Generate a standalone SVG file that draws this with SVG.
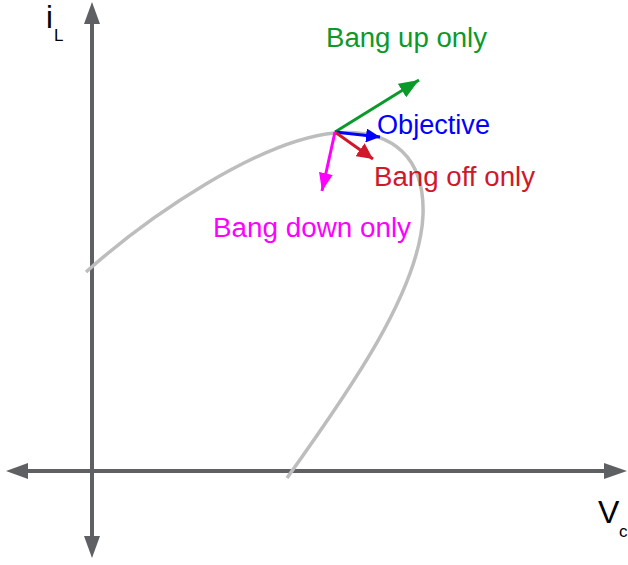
<svg xmlns="http://www.w3.org/2000/svg" width="628" height="565" viewBox="0 0 628 565">
<style>
.axis{stroke:#5f6064;stroke-width:4;fill:none}
.head{fill:#5f6064}
.curve{stroke:#bdbdbd;stroke-width:3.5;fill:none}
.vec{stroke-width:3;fill:none}
.lbl{font-family:"Liberation Sans",Arial,sans-serif;font-size:27px}
.ax{font-family:"Liberation Sans",Arial,sans-serif;fill:#000}
</style>
<defs>
<marker id="mg" markerUnits="userSpaceOnUse" markerWidth="22" markerHeight="16" refX="20" refY="8" orient="auto"><path d="M0,0 L20,8 L0,16 z" fill="#0a9a2a"/></marker>
<marker id="mb" markerUnits="userSpaceOnUse" markerWidth="16" markerHeight="14" refX="14" refY="7" orient="auto"><path d="M0,0 L14,7 L0,14 z" fill="#0000ff"/></marker>
<marker id="mr" markerUnits="userSpaceOnUse" markerWidth="18" markerHeight="16" refX="16" refY="8" orient="auto"><path d="M0,0 L16,8 L0,16 z" fill="#d0182a"/></marker>
<marker id="mm" markerUnits="userSpaceOnUse" markerWidth="20" markerHeight="16" refX="18" refY="7" orient="auto"><path d="M0,0 L18,7 L0,14 z" fill="#ff00ff"/></marker>
</defs>
<g id="axes">
<line class="axis" x1="92" y1="20" x2="92" y2="540"/>
<polygon class="head" points="92,2 84,24 100,24"/>
<polygon class="head" points="92,558 84,536 100,536"/>
<line class="axis" x1="26" y1="471" x2="606" y2="471"/>
<polygon class="head" points="6,471 28,463 28,479"/>
<polygon class="head" points="627,471 604,463 604,479"/>
</g>
<g id="axis-labels">
<text class="ax" x="46" y="28" font-size="31">i</text>
<text class="ax" x="54" y="41" font-size="17">L</text>
<text class="ax" x="598" y="523" font-size="32">V</text>
<text class="ax" x="619" y="537" font-size="17">c</text>
</g>
<g id="curve">
<path class="curve" d="M86,272 C150,215 260,140 335,133 C395,128 425,160 423,215 C420,290 350,390 287,478"/>
</g>
<g id="connectors">
<line class="vec" stroke="#0a9a2a" x1="335" y1="132" x2="419" y2="80" marker-end="url(#mg)"/>
<line class="vec" stroke="#0000ff" x1="335" y1="132" x2="380" y2="137" marker-end="url(#mb)"/>
<line class="vec" stroke="#d0182a" x1="335" y1="132" x2="373" y2="159" marker-end="url(#mr)"/>
<line class="vec" stroke="#ff00ff" x1="335" y1="132" x2="322" y2="191" marker-end="url(#mm)"/>
</g>
<g id="label-up"><text class="lbl" fill="#0a9a2a" x="326" y="47" textLength="161" lengthAdjust="spacingAndGlyphs">Bang up only</text></g>
<g id="label-objective"><text class="lbl" fill="#0000ff" x="377" y="134" textLength="113" lengthAdjust="spacingAndGlyphs">Objective</text></g>
<g id="label-off"><text class="lbl" fill="#d0182a" x="374" y="186" textLength="161" lengthAdjust="spacingAndGlyphs">Bang off only</text></g>
<g id="label-down"><text class="lbl" fill="#ff00ff" x="213" y="237" textLength="198" lengthAdjust="spacingAndGlyphs">Bang down only</text></g>
</svg>
